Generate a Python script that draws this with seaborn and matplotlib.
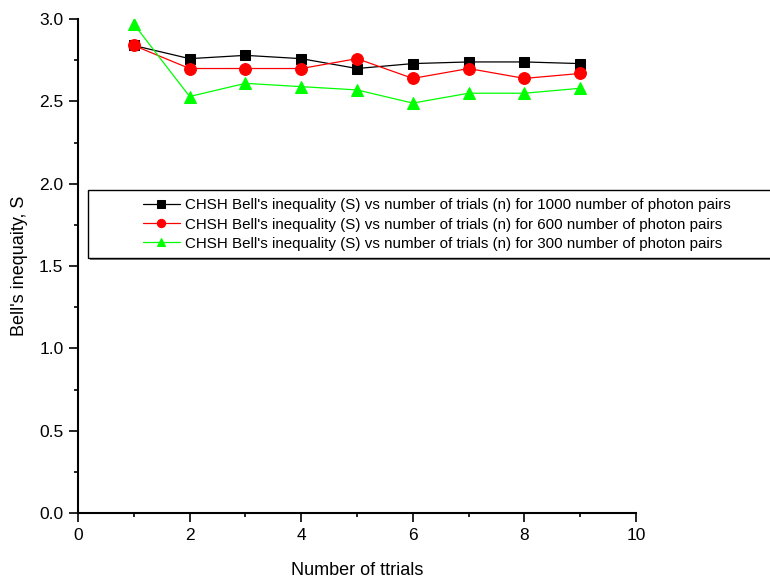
import pandas as pd
import matplotlib.pyplot as plt
import matplotlib.patches as mpatches
from matplotlib.ticker import MultipleLocator
import seaborn as sns

# Valores
trials = [1, 2, 3, 4, 5, 6, 7, 8, 9]
s_1000 = [2.84, 2.76, 2.78, 2.76, 2.70, 2.73, 2.74, 2.74, 2.73]
s_600 = [2.84, 2.70, 2.70, 2.70, 2.76, 2.64, 2.70, 2.64, 2.67]
s_300 = [2.97, 2.53, 2.61, 2.59, 2.57, 2.49, 2.55, 2.55, 2.58]

labels = [
    "CHSH Bell's inequality (S) vs number of trials (n) for 1000 number of photon pairs",
    "CHSH Bell's inequality (S) vs number of trials (n) for 600 number of photon pairs",
    "CHSH Bell's inequality (S) vs number of trials (n) for 300 number of photon pairs",
]
cores = ["#000000", "#FF0000", "#00FF00"]
marcadores = ["s", "o", "^"]
tamanhos = [7.5, 8.5, 9]


def montar_dados():
    partes = []
    for rotulo, valores in zip(labels, [s_1000, s_600, s_300]):
        partes.append(pd.DataFrame({"n": trials, "S": valores, "serie": rotulo}))
    return pd.concat(partes, ignore_index=True)


def main():
    sns.set_style("ticks")
    plt.rcParams["font.family"] = ["Liberation Sans", "DejaVu Sans"]
    plt.rcParams["text.color"] = "black"
    plt.rcParams["axes.labelcolor"] = "black"
    plt.rcParams["xtick.color"] = "black"
    plt.rcParams["ytick.color"] = "black"

    df = montar_dados()
    fig = plt.figure(figsize=(7.7, 5.8), dpi=100)
    ax = fig.add_axes([0.1013, 0.1155, 0.7247, 0.8515])

    for rotulo, cor, mk, ms in zip(labels, cores, marcadores, tamanhos):
        sub = df[df["serie"] == rotulo]
        sns.lineplot(data=sub, x="n", y="S", color=cor, marker=mk, markersize=ms,
                     markeredgecolor=cor, linewidth=0.9, label=rotulo, ax=ax)

    ax.set_xlim(0, 10)
    ax.set_ylim(0, 3.0)
    ax.xaxis.set_major_locator(MultipleLocator(2))
    ax.xaxis.set_minor_locator(MultipleLocator(1))
    ax.yaxis.set_major_locator(MultipleLocator(0.5))
    ax.yaxis.set_minor_locator(MultipleLocator(0.25))
    ax.yaxis.set_major_formatter(plt.FormatStrFormatter("%.1f"))
    ax.tick_params(which="major", direction="out", length=6.5, width=1.2, labelsize=12.5,
                   color="black", labelcolor="black", pad=4)
    ax.tick_params(which="minor", direction="out", length=3, width=1.2, color="black")
    for lado in ["top", "right"]:
        ax.spines[lado].set_visible(False)
    for lado in ["left", "bottom"]:
        ax.spines[lado].set_linewidth(1.5)
        ax.spines[lado].set_color("black")

    ax.set_xlabel("Number of ttrials", fontsize=13, labelpad=14)
    ax.set_ylabel("Bell's inequaity, S", fontsize=13, labelpad=8)

    # Caixa da legenda ao estilo do Origin (com sombra leve)
    sombra = mpatches.Rectangle((90 / 770, 1 - 260 / 580), (777 - 88) / 770, (258 - 190) / 580,
                                transform=fig.transFigure, facecolor="#808080",
                                edgecolor="none", clip_on=False, zorder=4)
    caixa = mpatches.Rectangle((88 / 770, 1 - 258 / 580), (775 - 88) / 770, (258 - 190) / 580,
                               transform=fig.transFigure, facecolor="white",
                               edgecolor="black", linewidth=1.0, clip_on=False, zorder=5)
    fig.patches.extend([sombra, caixa])
    ax.get_legend().remove()
    handles, rot = ax.get_legend_handles_labels()
    leg = fig.legend(handles, rot, loc="center", bbox_to_anchor=(0.567, 1 - 224.5 / 580),
                     frameon=False, fontsize=10.9, handlelength=2.5, handletextpad=0.3,
                     labelspacing=0.34, markerscale=0.7)
    leg.set_zorder(6)

    fig.savefig("out.png", dpi=100)


if __name__ == "__main__":
    main()
